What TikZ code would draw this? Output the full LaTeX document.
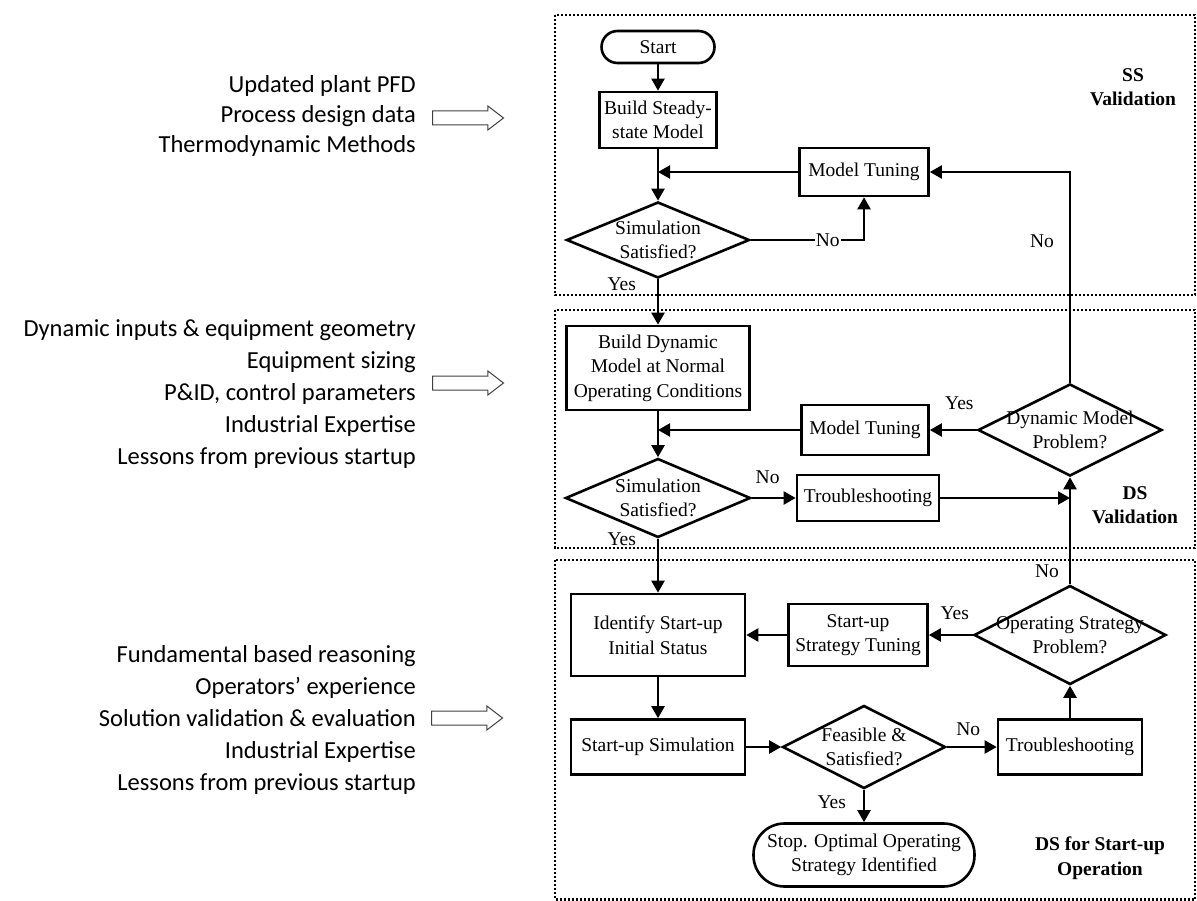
\documentclass[tikz,border=0pt]{standalone}
\usepackage{fontspec}
\setmainfont{Liberation Serif}
\newfontfamily\inputfont{Carlito}
\usepackage{tikz}
\usetikzlibrary{arrows.meta,shapes.geometric,shapes.arrows,positioning}

\begin{document}
\begin{tikzpicture}[x=1pt, y=-1pt,
    every node/.style={font=\fontsize{19.5}{24.5}\selectfont},
    proc/.style={draw, line width=2.6pt, rectangle, align=center, inner sep=2pt},
    terminal/.style={proc, rounded corners=#1},
    decision/.style={draw, line width=2.6pt, diamond, align=center, inner sep=-6pt},
    flow/.style={line width=2.2pt, -{Triangle[length=12pt, width=13pt]}},
    lbl/.style={inner sep=1pt},
    stage/.style={line width=2.4pt, dash pattern=on 2.2pt off 1.8pt},
    stagetitle/.style={font=\bfseries\fontsize{19.5}{24.5}\selectfont, align=center},
    inputs/.style={font=\inputfont\fontsize{24.5}{#1}\selectfont, align=right, anchor=east, inner sep=0pt},
    hollow/.style={draw=black!75, line width=1pt, single arrow, minimum height=71pt,
      minimum width=23pt, inner sep=6.5pt, single arrow head extend=5pt,
      single arrow tip angle=75, anchor=west},
  ]
  \useasboundingbox (0,0) rectangle (1197,901);

  % stage frames
  \draw[stage] (555,15) rectangle (1195,295);
  \draw[stage] (555,310) rectangle (1195,548);
  \draw[stage] (555,560) rectangle (1195,899.5);
  \node[stagetitle] (sstitle) at (1133,87) {SS\\Validation};
  \node[stagetitle] (dstitle) at (1135,505) {DS\\Validation};
  \node[stagetitle] (sutitle) at (1100,858) {DS for Start-up\\Operation};

  % inputs on the left
  \node[inputs=30] (ssinputs) at (416,116) {Updated plant PFD\\Process design data\\Thermodynamic Methods};
  \node[inputs=32] (dsinputs) at (416,394) {Dynamic inputs \& equipment geometry\\Equipment sizing\\P\&ID, control parameters\\Industrial Expertise\\Lessons from previous startup};
  \node[inputs=32] (suinputs) at (416,720) {Fundamental based reasoning\\Operators’ experience\\Solution validation \& evaluation\\Industrial Expertise\\Lessons from previous startup};
  \node[hollow] (ssarrow) at (432,118) {};
  \node[hollow] (dsarrow) at (432,383) {};
  \node[hollow] (suarrow) at (431,718) {};

  % steady state
  \node[terminal=16pt, minimum width=113pt, minimum height=32pt] (start) at (658,47) {Start};
  \node[proc, minimum width=117pt, minimum height=56pt] (buildss) at (658,120) {Build Steady-\\state Model};
  \node[proc, minimum width=129pt, minimum height=48pt] (tuness) at (864,172) {Model Tuning};
  \node[decision, shape aspect=2.4, minimum width=183pt, minimum height=76pt] (simss) at (658,240) {Simulation\\Satisfied?};

  % dynamic simulation
  \node[proc, minimum width=183pt, minimum height=84pt] (builddyn) at (658,368) {Build Dynamic\\Model at Normal\\Operating Conditions};
  \node[proc, minimum width=127pt, minimum height=50pt] (tuneds) at (865,430) {Model Tuning};
  \node[decision, shape aspect=2.3, minimum width=185pt, minimum height=79pt] (simds) at (658,498) {Simulation\\Satisfied?};
  \node[proc, minimum width=142pt, minimum height=46pt] (troubleds) at (868,498) {Troubleshooting};
  \node[decision, shape aspect=2, minimum width=184pt, minimum height=92pt] (dynprob) at (1070,430) {Dynamic Model\\Problem?};

  % start-up
  \node[proc, minimum width=174pt, minimum height=82pt] (identify) at (658,635) {Identify Start-up\\Initial Status};
  \node[proc, minimum width=139pt, minimum height=62pt] (stratune) at (858,635) {Start-up\\Strategy Tuning};
  \node[decision, shape aspect=1.94, minimum width=192pt, minimum height=99pt] (opprob) at (1070,635) {Operating Strategy\\Problem?};
  \node[proc, minimum width=174pt, minimum height=55pt] (simsu) at (658,747) {Start-up Simulation};
  \node[decision, shape aspect=1.96, minimum width=163pt, minimum height=83pt] (feasible) at (864,747) {Feasible \&\\Satisfied?};
  \node[proc, minimum width=144pt, minimum height=55pt] (troublesu) at (1070,747) {Troubleshooting};
  \node[terminal=31pt, minimum width=221pt, minimum height=63pt] (stop) at (864,855) {Stop. Optimal Operating\\Strategy Identified};

  \draw[flow] (start) -- (buildss);
  \draw[flow] (buildss) -- (simss);
  \draw[flow] (tuness.west) -- (tuness.west -| buildss.south);
  \draw[flow] (simss.east) -- node[lbl, pos=0.68, fill=white] {No} (simss.east -| tuness.south) -- (tuness.south);
  \draw[flow] (simss.south) -- node[lbl, pos=0.1, anchor=east, xshift=-20pt] {Yes} (builddyn.north);

  \draw[flow] (builddyn) -- (simds);
  \draw[flow] (tuneds.west) -- (tuneds.west -| builddyn.south);
  \draw[flow] (simds.east) -- node[lbl, pos=0.36, anchor=south, yshift=12pt] {No} (troubleds.west);
  \draw[flow] (troubleds.east) -- (troubleds.east -| dynprob.south);
  \draw[flow] (dynprob.west) -- node[lbl, pos=0.37, anchor=south, yshift=18pt] {Yes} (tuneds.east);
  \draw[flow] (dynprob.north) -- node[lbl, pos=0.67, anchor=east, xshift=-14pt] {No} (dynprob.north |- tuness.east) -- (tuness.east);
  \draw[flow] (simds.south) -- node[lbl, pos=0.0, anchor=east, xshift=-20pt] {Yes} (identify.north);

  \draw[flow] (identify) -- (simsu);
  \draw[flow] (simsu) -- (feasible);
  \draw[flow] (feasible) -- node[lbl, pos=0.43, anchor=south, yshift=9pt] {No} (troublesu);
  \draw[flow] (troublesu) -- (opprob);
  \draw[flow] (opprob.north) -- node[lbl, pos=0.12, anchor=east, xshift=-9pt] {No} (dynprob.south);
  \draw[flow] (opprob.west) -- node[lbl, pos=0.41, anchor=south, yshift=13pt] {Yes} (stratune.east);
  \draw[flow] (stratune) -- (identify);
  \draw[flow] (feasible) -- node[lbl, pos=0.39, anchor=east, xshift=-16pt] {Yes} (stop);
\end{tikzpicture}
\end{document}
